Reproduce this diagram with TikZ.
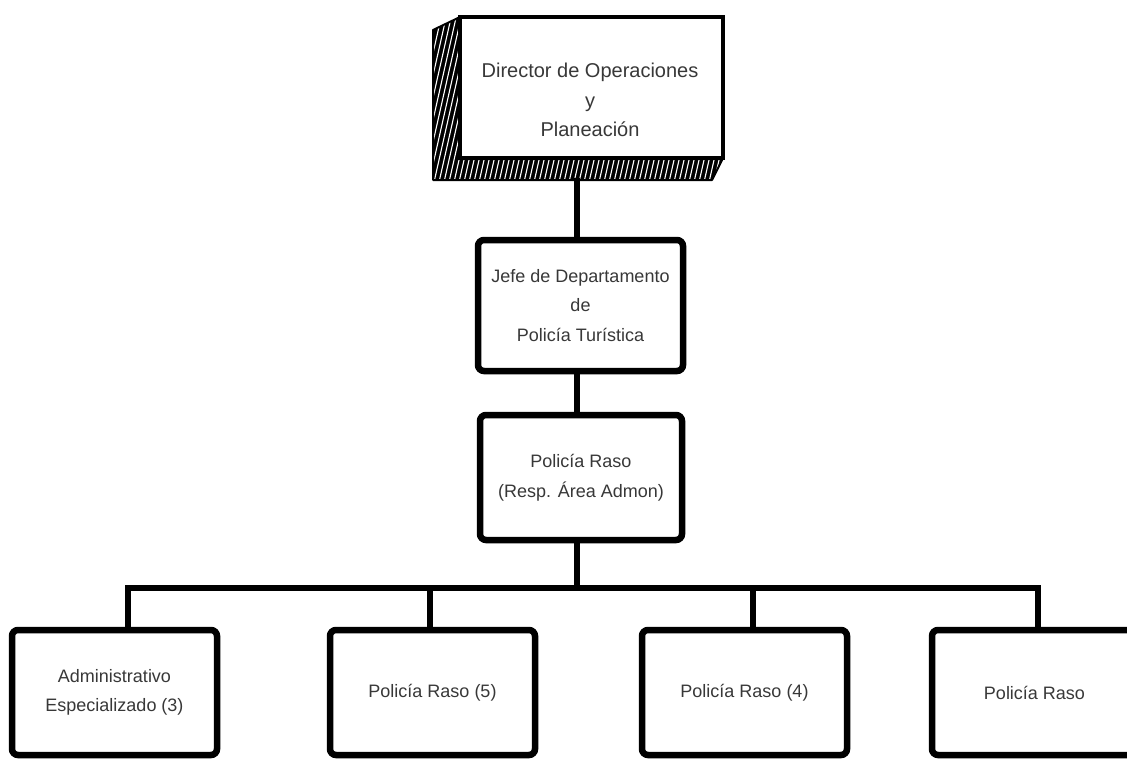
\documentclass[tikz,border=0pt]{standalone}
\usepackage{fontspec}
\setmainfont{Liberation Sans}
\begin{document}
\begin{tikzpicture}[x=1pt,y=-1pt,
 box/.style={draw=black,line width=6.5pt,rounded corners=6pt,fill=white,inner sep=0pt,
   align=center,text=black!78,font=\fontsize{18}{29.5}\selectfont},
 txt/.style={font=\fontsize{20}{29.5}\selectfont,align=center,text=black!78},
 conn/.style={line width=6.5pt,line cap=rect,line join=miter}]
\useasboundingbox (0,0) rectangle (1127,760);
\clip (0,0) rectangle (1127,760);

% hatched shadow of the top box
\fill[black] (460,17) -- (433,30) -- (433,180) -- (712,180) -- (723,158) -- (460,158) -- cycle;
\begin{scope}
\clip (460,17) -- (433,30) -- (433,180) -- (712,180) -- (723,158) -- (460,158) -- cycle;
\foreach \i in {300,305,...,760} \draw[white,line width=1.1pt] (\i,200) -- (\i+45,0);
\end{scope}
\draw[line width=2pt,line join=round] (460,17) -- (433,30) -- (433,180) -- (712,180) -- (723,158);

\node[draw=black,line width=4pt,fill=white,minimum width=263pt,minimum height=141pt,inner sep=0pt] (dir) at (591.5,87.5) {};
\node[txt] (dirtxt) at (590,100) {Director de Operaciones\\y\\Planeación};

\node[box,minimum width=205pt,minimum height=131pt] (jefe) at (580.5,305.5) {Jefe de Departamento\\de\\Policía Turística};
\node[box,minimum width=202pt,minimum height=125pt] (resp) at (581,477.5) {Policía Raso\\(Resp. Área Admon)};

\node[box,minimum width=205pt,minimum height=125pt] (a) at (114.5,692.5) {Administrativo\\Especializado (3)};
\node[box,minimum width=205pt,minimum height=125pt] (b) at (432.5,692.5) {Policía Raso (5)};
\node[box,minimum width=205pt,minimum height=125pt] (c) at (744.5,692.5) {Policía Raso (4)};
\node[box,minimum width=205pt,minimum height=125pt] (d) at (1034.5,692.5) {Policía Raso};

\coordinate (dirb) at (577,181);
\coordinate (bar) at (577,588);
\draw[conn] (dirb) -- (dirb |- jefe.north);
\draw[conn] ([xshift=-3.5pt]jefe.south) -- ([xshift=-3.5pt]jefe.south |- resp.north);
\draw[conn] ([xshift=-4pt]resp.south) -- (bar);
\draw[conn] ([xshift=13.5pt]a.north) |- (bar) -| ([xshift=3.5pt]d.north);
\draw[conn] ([xshift=-2.5pt]b.north) -- ([xshift=-2.5pt]b.north |- bar);
\draw[conn] ([xshift=8.5pt]c.north) -- ([xshift=8.5pt]c.north |- bar);
\end{tikzpicture}
\end{document}
